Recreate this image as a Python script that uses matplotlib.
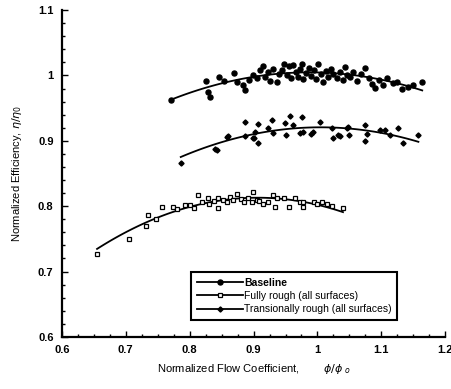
import numpy as np
import matplotlib
matplotlib.use("Agg")
import matplotlib.pyplot as plt
from matplotlib.ticker import MultipleLocator

plt.rcParams['font.family'] = ['Liberation Sans', 'DejaVu Sans']

# Baseline
base_x = [0.770, 0.826, 0.829, 0.832, 0.846, 0.854, 0.869, 0.874, 0.884, 0.887,
          0.893, 0.899, 0.905, 0.910, 0.915, 0.918, 0.922, 0.926, 0.930, 0.937,
          0.940, 0.945, 0.948, 0.952, 0.955, 0.958, 0.962, 0.966, 0.970, 0.973,
          0.976, 0.978, 0.982, 0.986, 0.990, 0.994, 0.998, 1.001, 1.005, 1.009,
          1.013, 1.017, 1.021, 1.025, 1.030, 1.035, 1.040, 1.043, 1.047, 1.051,
          1.056, 1.062, 1.068, 1.075, 1.080, 1.085, 1.090, 1.097, 1.103, 1.109,
          1.118, 1.125, 1.133, 1.141, 1.150, 1.164]
base_y = [0.962, 0.991, 0.975, 0.967, 0.998, 0.991, 1.004, 0.990, 0.985, 0.978,
          0.993, 1.001, 0.996, 1.008, 1.014, 0.998, 1.005, 0.992, 1.010, 0.990,
          1.003, 1.009, 1.017, 1.000, 1.015, 0.996, 1.016, 1.006, 0.998, 1.010,
          1.017, 0.995, 1.004, 1.012, 0.999, 1.008, 0.994, 1.017, 1.003, 0.990,
          1.007, 0.998, 1.010, 1.002, 0.996, 1.006, 0.993, 1.013, 1.001, 0.998,
          1.005, 0.992, 1.002, 1.011, 0.996, 0.987, 0.981, 0.993, 0.985, 0.996,
          0.988, 0.990, 0.980, 0.983, 0.986, 0.990]

# Fully rough (all surfaces)
full_x = [0.655, 0.705, 0.732, 0.735, 0.748, 0.757, 0.774, 0.780, 0.793, 0.800,
          0.806, 0.813, 0.820, 0.829, 0.830, 0.838, 0.845, 0.845, 0.852, 0.858,
          0.863, 0.868, 0.874, 0.880, 0.885, 0.891, 0.897, 0.899, 0.905, 0.909,
          0.915, 0.922, 0.931, 0.933, 0.937, 0.947, 0.955, 0.965, 0.972, 0.978,
          0.978, 0.994, 1.000, 1.007, 1.015, 1.023, 1.040]
full_y = [0.727, 0.750, 0.770, 0.786, 0.781, 0.798, 0.799, 0.795, 0.802, 0.802,
          0.797, 0.817, 0.806, 0.812, 0.803, 0.808, 0.812, 0.797, 0.809, 0.806,
          0.814, 0.810, 0.818, 0.811, 0.806, 0.813, 0.806, 0.822, 0.810, 0.808,
          0.803, 0.806, 0.817, 0.799, 0.812, 0.812, 0.799, 0.812, 0.807, 0.806,
          0.799, 0.806, 0.803, 0.806, 0.803, 0.800, 0.797]

# Transionally rough (all surfaces)
trans_x = [0.786, 0.840, 0.843, 0.858, 0.860, 0.887, 0.887, 0.899, 0.900, 0.902,
           0.907, 0.907, 0.923, 0.929, 0.931, 0.949, 0.951, 0.957, 0.962, 0.973,
           0.976, 0.978, 0.990, 0.993, 1.004, 1.023, 1.025, 1.032, 1.036, 1.046,
           1.048, 1.050, 1.075, 1.077, 1.075, 1.098, 1.106, 1.114, 1.126, 1.134,
           1.158]
trans_y = [0.866, 0.887, 0.886, 0.906, 0.907, 0.929, 0.907, 0.904, 0.905, 0.913,
           0.926, 0.897, 0.920, 0.932, 0.912, 0.927, 0.909, 0.938, 0.924, 0.912,
           0.936, 0.914, 0.910, 0.913, 0.929, 0.920, 0.904, 0.909, 0.908, 0.920,
           0.921, 0.909, 0.924, 0.910, 0.900, 0.917, 0.917, 0.909, 0.920, 0.897,
           0.909]

labels = ["Baseline", "Fully rough (all surfaces)", "Transionally rough (all surfaces)"]

fig = plt.figure(figsize=(4.52, 3.89), dpi=100)
ax = fig.add_axes([0.137, 0.134, 0.848, 0.840])

series = [
    (base_x, base_y, dict(marker='o', ms=3.6, mfc='black', mec='black')),
    (full_x, full_y, dict(marker='s', ms=3.3, mfc='white', mec='black', mew=0.9)),
    (trans_x, trans_y, dict(marker='D', ms=2.6, mfc='black', mec='black')),
]

handles = []
for (x, y, mk), lab in zip(series, labels):
    x = np.asarray(x); y = np.asarray(y)
    ax.plot(x, y, linestyle='none', **mk, zorder=3)
    c = np.polyfit(x, y, 2)
    xf = np.linspace(x.min(), x.max(), 100)
    ax.plot(xf, np.polyval(c, xf), color='black', lw=1.3, zorder=2)
    h, = ax.plot([], [], color='black', lw=1.3, **mk)
    handles.append(h)

ax.set_xlim(0.6, 1.2)
ax.set_ylim(0.6, 1.1)
ax.xaxis.set_major_locator(MultipleLocator(0.1))
ax.xaxis.set_minor_locator(MultipleLocator(0.025))
ax.yaxis.set_major_locator(MultipleLocator(0.1))
ax.yaxis.set_minor_locator(MultipleLocator(0.02))
fmt = matplotlib.ticker.FuncFormatter(lambda v, p: ('%g' % round(v, 2)))
ax.xaxis.set_major_formatter(fmt)
ax.yaxis.set_major_formatter(fmt)

for s in ['top', 'right']:
    ax.spines[s].set_visible(False)
for s in ['left', 'bottom']:
    ax.spines[s].set_linewidth(1.6)
ax.tick_params(which='both', direction='in', width=1.0, labelsize=8)
ax.tick_params(which='major', length=4, pad=6)
ax.tick_params(which='minor', length=2.5)
for t in ax.get_xticklabels() + ax.get_yticklabels():
    t.set_fontweight('bold')

ax.set_xlabel("Normalized Flow Coefficient,        $\\phi/\\phi_{\\ o}$", fontsize=8, labelpad=5)
ax.set_ylabel("Normalized Efficiency, $\\eta/\\eta_0$", fontsize=8, labelpad=10)

leg = ax.legend(handles, labels, loc='lower left', bbox_to_anchor=(0.338, 0.052),
                fancybox=False, framealpha=1, edgecolor='black', fontsize=7.5,
                handlelength=4.4, handletextpad=0.1, borderpad=0.55, labelspacing=0.3,
                borderaxespad=0)
leg.get_frame().set_linewidth(1.5)
leg.get_texts()[0].set_fontweight('bold')

fig.savefig("out.png", dpi=100)
